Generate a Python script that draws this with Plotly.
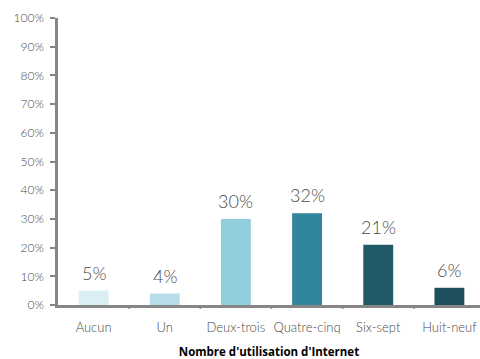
import plotly.graph_objects as go

categories = ["Aucun", "Un", "Deux-trois", "Quatre-cinq", "Six-sept", "Huit-neuf"]
shares = [5, 4, 30, 32, 21, 6]
bar_colors = ["#dbeef4", "#b7dde8", "#92cddc", "#31859c", "#215967", "#1f4f5c"]
y_ticks = [0, 10, 20, 30, 40, 50, 60, 70, 80, 90, 100]
y_tick_labels = [f"{v}%" for v in y_ticks]

thin_font = "Lato, Open Sans, sans-serif"
label_grey = "#4a4a4a"
positions = list(range(len(categories)))

fig = go.Figure(
    go.Bar(
        x=positions,
        y=shares,
        marker=dict(color=bar_colors, line=dict(width=0)),
        hoverinfo="skip",
    )
)

# Value labels above each bar
for pos, val in zip(positions, shares):
    fig.add_annotation(
        x=pos,
        y=val,
        text=f"{val}%",
        showarrow=False,
        yanchor="bottom",
        yshift=5,
        font=dict(family=thin_font, size=18, color=label_grey, weight=300),
    )

fig.update_layout(
    width=480,
    height=359,
    margin=dict(l=58, r=0, t=18, b=54),
    paper_bgcolor="white",
    plot_bgcolor="white",
    bargap=0.58,
    showlegend=False,
    xaxis=dict(
        tickmode="array",
        tickvals=positions,
        ticktext=categories,
        range=[-0.5, 5.43],
        showgrid=False,
        zeroline=False,
        showline=True,
        linecolor="#868686",
        linewidth=2.5,
        ticks="",
        ticklabelstandoff=9,
        tickfont=dict(family=thin_font, size=13, color=label_grey, weight=300),
        title=dict(
            text="<b>Nombre d'utilisation d'Internet</b>",
            font=dict(family="Open Sans, sans-serif", size=11.5, color="#000000"),
            standoff=16,
        ),
    ),
    yaxis=dict(
        range=[0, 100],
        tickmode="array",
        tickvals=y_ticks,
        ticktext=y_tick_labels,
        showgrid=False,
        zeroline=False,
        showline=True,
        linecolor="#868686",
        linewidth=2.5,
        ticks="outside",
        ticklen=5,
        tickwidth=1.5,
        tickcolor="#868686",
        ticklabelstandoff=4,
        tickfont=dict(family=thin_font, size=12, color=label_grey, weight=300),
    ),
)

# Category separator ticks along the x axis
for i in range(1, len(categories)):
    fig.add_shape(
        type="line",
        xref="x",
        yref="paper",
        x0=i - 0.5,
        x1=i - 0.5,
        y0=0,
        y1=-0.014,
        line=dict(color="#868686", width=1.5),
    )

fig.write_html("out.html")
